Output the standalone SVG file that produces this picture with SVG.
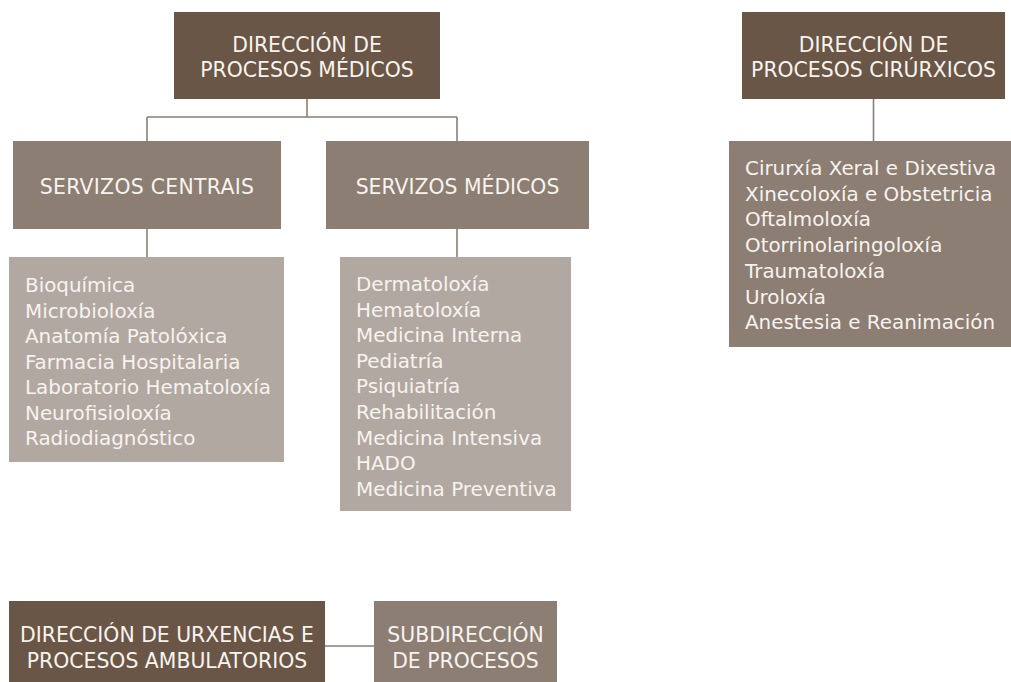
<svg xmlns="http://www.w3.org/2000/svg" width="1011" height="682" viewBox="0 0 1011 682">
<style>
.dark{fill:#6a5646}
.mid{fill:#8c7e73}
.light{fill:#b2a8a2}
text{font-family:"DejaVu Sans","Liberation Sans",sans-serif;font-size:19.9px;fill:#f7f3ef}
.c{text-anchor:middle;font-size:20.4px}
.conn{stroke:#8c7e73;stroke-width:1.6;fill:none}
</style>
<rect width="1011" height="682" fill="#ffffff"/>
<g id="connectors">
<path class="conn" d="M307 99 V117 M147 117 H457 M147 117 V141 M457 117 V141"/>
<path class="conn" d="M147 229 V257 M457 229 V257"/>
<path class="conn" d="M873.5 99 V141"/>
<path class="conn" d="M325 646 H374"/>
</g>
<g id="dir-medicos">
<rect class="dark" x="174" y="12" width="266" height="87"/>
<text class="c" x="307" y="51.5">DIRECCIÓN DE</text>
<text class="c" x="307" y="76.5">PROCESOS MÉDICOS</text>
</g>
<g id="servizos-centrais">
<rect class="mid" x="13" y="141" width="268" height="88"/>
<text class="c" x="147" y="194" style="letter-spacing:0.3px">SERVIZOS CENTRAIS</text>
</g>
<g id="servizos-medicos">
<rect class="mid" x="326" y="141" width="263" height="88"/>
<text class="c" x="457.5" y="194">SERVIZOS MÉDICOS</text>
</g>
<g id="lista-centrais">
<rect class="light" x="9" y="257" width="275" height="205"/>
<text x="25" y="292">Bioquímica</text>
<text x="25" y="317.5">Microbioloxía</text>
<text x="25" y="343">Anatomía Patolóxica</text>
<text x="25" y="368.5">Farmacia Hospitalaria</text>
<text x="25" y="394">Laboratorio Hematoloxía</text>
<text x="25" y="419.5">Neurofisioloxía</text>
<text x="25" y="445">Radiodiagnóstico</text>
</g>
<g id="lista-medicos">
<rect class="light" x="340" y="257" width="231" height="254"/>
<text x="356" y="291">Dermatoloxía</text>
<text x="356" y="316.6">Hematoloxía</text>
<text x="356" y="342.2">Medicina Interna</text>
<text x="356" y="367.8">Pediatría</text>
<text x="356" y="393.4">Psiquiatría</text>
<text x="356" y="419">Rehabilitación</text>
<text x="356" y="444.6">Medicina Intensiva</text>
<text x="356" y="470.2">HADO</text>
<text x="356" y="495.8">Medicina Preventiva</text>
</g>
<g id="dir-cirurxicos">
<rect class="dark" x="742" y="12" width="263" height="87"/>
<text class="c" x="873.5" y="51.5">DIRECCIÓN DE</text>
<text class="c" x="873.5" y="76.5">PROCESOS CIRÚRXICOS</text>
</g>
<g id="lista-cirurxicos">
<rect class="mid" x="729" y="141" width="282" height="206"/>
<text x="745" y="175">Cirurxía Xeral e Dixestiva</text>
<text x="745" y="200.7">Xinecoloxía e Obstetricia</text>
<text x="745" y="226.4">Oftalmoloxía</text>
<text x="745" y="252.1">Otorrinolaringoloxía</text>
<text x="745" y="277.8">Traumatoloxía</text>
<text x="745" y="303.5">Uroloxía</text>
<text x="745" y="329.2">Anestesia e Reanimación</text>
</g>
<g id="dir-urxencias">
<rect class="dark" x="9" y="601" width="316" height="81"/>
<text class="c" x="167" y="641.5">DIRECCIÓN DE URXENCIAS E</text>
<text class="c" x="167" y="667.5">PROCESOS AMBULATORIOS</text>
</g>
<g id="subdireccion">
<rect class="mid" x="374" y="601" width="183" height="81"/>
<text class="c" x="465.5" y="641.5">SUBDIRECCIÓN</text>
<text class="c" x="465.5" y="667.5">DE PROCESOS</text>
</g>
</svg>
